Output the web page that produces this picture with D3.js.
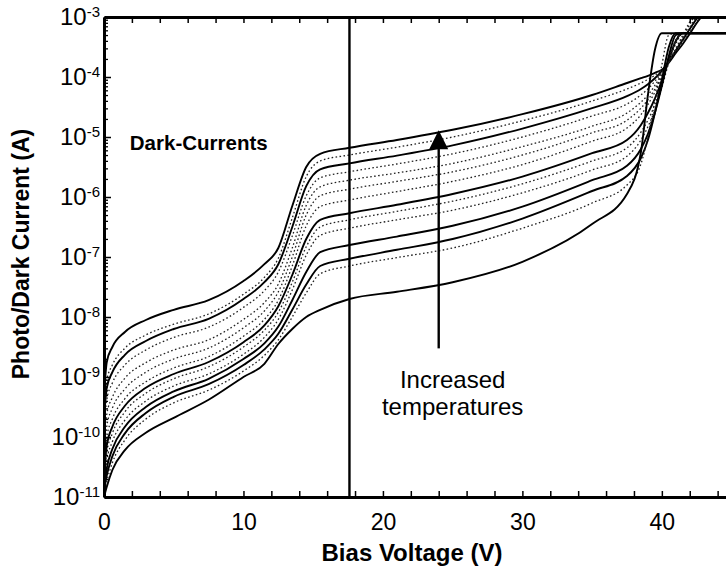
<!DOCTYPE html>
<html>
<head>
<meta charset="utf-8">
<script src="https://cdn.jsdelivr.net/npm/d3@7"></script>
<style>
  body { margin: 0; background: #fff; }
  svg { display: block; font-family: Arial, "Liberation Sans", Helvetica, sans-serif; }
</style>
</head>
<body>
<div id="chart"></div>
<script>
// bias voltage grid shared by every sweep (V)
const voltages = [0, 0.2, 0.6, 1.5, 3, 5, 7.5, 10, 11.5, 12.5, 13.5, 14.5, 15.5, 17.6, 21, 25, 30, 35, 37.5,
                  38.5, 39, 39.5, 40, 40.5, 41, 41.5, 42, 42.5, 43, 43.5, 44, 44.6];

// dark current sweeps, log10(I / A), hottest first
const curve01 = [-9.3, -8.75, -8.5, -8.25, -8.05, -7.88, -7.72, -7.4, -7.12, -6.85, -6.15, -5.5, -5.28, -5.18, -5.05, -4.88, -4.62, -4.3, -4.1, -4.02, -3.98, -3.93, -3.88, -3.76, -3.6, -3.45, -3.28, -3.1, -2.95, -2.8, -2.65, -2.45];
const curve02 = [-9.6, -9.05, -8.8, -8.52, -8.3, -8.12, -7.95, -7.62, -7.34, -7.02, -6.35, -5.66, -5.4, -5.3, -5.17, -5.0, -4.73, -4.4, -4.2, -4.1, -4.04, -3.97, -3.88, -3.74, -3.58, -3.42, -3.25, -3.08, -2.92, -2.77, -2.62, -2.42];
const curve03 = [-9.7, -9.18, -8.92, -8.63, -8.4, -8.2, -8.03, -7.7, -7.42, -7.12, -6.5, -5.82, -5.54, -5.44, -5.31, -5.14, -4.86, -4.52, -4.32, -4.2, -4.12, -4.02, -3.9, -3.74, -3.56, -3.38, -3.2, -3.03, -2.88, -2.73, -2.58, -2.4];
const curve04 = [-9.9, -9.38, -9.1, -8.8, -8.55, -8.34, -8.17, -7.84, -7.56, -7.25, -6.65, -5.98, -5.68, -5.58, -5.45, -5.28, -5.0, -4.65, -4.45, -4.3, -4.2, -4.07, -3.92, -3.74, -3.55, -3.36, -3.17, -2.98, -2.82, -2.67, -2.52, -2.35];
const curve05 = [-10.1, -9.62, -9.34, -9.02, -8.76, -8.55, -8.38, -8.04, -7.76, -7.45, -6.85, -6.14, -5.83, -5.72, -5.6, -5.44, -5.16, -4.82, -4.6, -4.42, -4.3, -4.14, -3.95, -3.75, -3.54, -3.33, -3.12, -2.93, -2.77, -2.62, -2.48, -2.3];
const curve06 = [-10.3, -9.82, -9.52, -9.2, -8.92, -8.7, -8.52, -8.18, -7.9, -7.58, -7.0, -6.3, -5.98, -5.87, -5.74, -5.58, -5.3, -4.93, -4.72, -4.52, -4.38, -4.2, -3.98, -3.76, -3.53, -3.3, -3.08, -2.88, -2.72, -2.58, -2.44, -2.28];
const curve07 = [-10.5, -10.0, -9.7, -9.36, -9.08, -8.85, -8.66, -8.32, -8.04, -7.72, -7.15, -6.48, -6.16, -6.05, -5.91, -5.74, -5.46, -5.07, -4.85, -4.63, -4.46, -4.25, -4.0, -3.72, -3.45, -3.27, -3.27, -3.27, -3.27, -3.27, -3.27, -3.27];
const curve08 = [-10.6, -10.14, -9.83, -9.48, -9.18, -8.95, -8.75, -8.42, -8.14, -7.82, -7.3, -6.7, -6.38, -6.27, -6.13, -5.95, -5.66, -5.27, -5.05, -4.8, -4.6, -4.36, -4.06, -3.72, -3.4, -3.27, -3.27, -3.27, -3.27, -3.27, -3.27, -3.27];
const curve09 = [-10.7, -10.26, -9.94, -9.58, -9.27, -9.03, -8.83, -8.5, -8.22, -7.92, -7.42, -6.83, -6.5, -6.38, -6.24, -6.07, -5.78, -5.4, -5.18, -4.92, -4.72, -4.46, -4.12, -3.75, -3.4, -3.27, -3.27, -3.27, -3.27, -3.27, -3.27, -3.27];
const curve10 = [-10.8, -10.4, -10.08, -9.72, -9.4, -9.15, -8.95, -8.62, -8.34, -8.04, -7.55, -6.97, -6.64, -6.52, -6.38, -6.22, -5.93, -5.55, -5.32, -5.05, -4.83, -4.55, -4.18, -3.75, -3.38, -3.27, -3.27, -3.27, -3.27, -3.27, -3.27, -3.27];
const curve11 = [-10.85, -10.52, -10.2, -9.83, -9.5, -9.24, -9.03, -8.7, -8.44, -8.16, -7.72, -7.25, -6.92, -6.8, -6.66, -6.48, -6.16, -5.72, -5.48, -5.2, -4.95, -4.6, -4.15, -3.65, -3.3, -3.27, -3.27, -3.27, -3.27, -3.27, -3.27, -3.27];
const curve12 = [-10.9, -10.64, -10.32, -9.94, -9.6, -9.33, -9.12, -8.8, -8.54, -8.28, -7.88, -7.46, -7.15, -7.03, -6.88, -6.7, -6.36, -5.9, -5.65, -5.35, -5.05, -4.6, -4.05, -3.5, -3.27, -3.27, -3.27, -3.27, -3.27, -3.27, -3.27, -3.27];
const curve13 = [-10.95, -10.74, -10.43, -10.05, -9.7, -9.43, -9.22, -8.9, -8.64, -8.38, -8.0, -7.6, -7.28, -7.15, -7.01, -6.85, -6.52, -6.1, -5.8, -5.45, -5.0, -4.4, -3.8, -3.3, -3.27, -3.27, -3.27, -3.27, -3.27, -3.27, -3.27, -3.27];
const curve14 = [-11.0, -10.83, -10.55, -10.22, -9.93, -9.68, -9.38, -9.0, -8.78, -8.45, -8.2, -8.0, -7.88, -7.7, -7.58, -7.42, -7.08, -6.45, -5.95, -5.25, -4.3, -3.55, -3.27, -3.27, -3.27, -3.27, -3.27, -3.27, -3.27, -3.27, -3.27, -3.27];

const xTickLabels = [0, 10, 20, 30, 40];
const yDecades = [-11, -10, -9, -8, -7, -6, -5, -4, -3];

// annotations (data units)
const markerVoltage = 17.6;
const arrowVoltage = 24.0;
const arrowFrom = 3e-9, arrowTo = 1.3e-5;

const curves = [curve01, curve02, curve03, curve04, curve05, curve06, curve07,
                curve08, curve09, curve10, curve11, curve12, curve13, curve14];
const dotted = new Set([1, 3, 4, 5, 6, 8, 9, 12]);   // indices drawn with fine dots

const W = 726, H = 573;
const margin = { top: 17, right: 0, bottom: 76, left: 104 };
const plotW = W - margin.left - margin.right;
const plotH = H - margin.top - margin.bottom;

const svg = d3.select("#chart").append("svg")
    .attr("width", W)
    .attr("height", H);

const x = d3.scaleLinear().domain([0, 44.6]).range([margin.left, margin.left + plotW]);
const y = d3.scaleLog().domain([1e-11, 1e-3]).range([margin.top + plotH, margin.top]);

svg.append("clipPath").attr("id", "plot")
  .append("rect")
    .attr("x", margin.left).attr("y", margin.top)
    .attr("width", plotW).attr("height", plotH);

const line = d3.line()
    .x((d, i) => x(voltages[i]))
    .y(d => y(Math.pow(10, d)))
    .curve(d3.curveMonotoneX);

const gCurves = svg.append("g").attr("clip-path", "url(#plot)");
gCurves.selectAll("path")
  .data(curves)
  .enter()
  .append("path")
    .attr("d", line)
    .attr("fill", "none")
    .attr("stroke", (d, i) => dotted.has(i) ? "#222" : "#000")
    .attr("stroke-width", (d, i) => dotted.has(i) ? 1.3 : 1.9)
    .attr("stroke-dasharray", (d, i) => dotted.has(i) ? "1.6 2.4" : null);

// vertical marker line
svg.append("line")
    .attr("x1", x(markerVoltage)).attr("x2", x(markerVoltage))
    .attr("y1", y(1e-3)).attr("y2", y(1e-11))
    .attr("stroke", "#000").attr("stroke-width", 2.4);

// arrow
svg.append("line")
    .attr("x1", x(arrowVoltage)).attr("x2", x(arrowVoltage))
    .attr("y1", y(arrowFrom)).attr("y2", y(arrowTo) + 17)
    .attr("stroke", "#000").attr("stroke-width", 2.4);
const ax = x(arrowVoltage), ay = y(arrowTo);
svg.append("path")
    .attr("d", `M${ax},${ay} L${ax - 9.5},${ay + 19} L${ax + 9.5},${ay + 19} Z`)
    .attr("fill", "#000");

// axes
const decadeVals = yDecades.map(e => Math.pow(10, e));
const minorVals = [];
yDecades.slice(0, -1).forEach(e => { for (let m = 2; m <= 9; m++) minorVals.push(m * Math.pow(10, e)); });

svg.append("g")
    .attr("transform", `translate(${margin.left},0)`)
    .call(d3.axisLeft(y).tickValues(minorVals).tickSizeInner(-4).tickSizeOuter(0).tickFormat(""))
    .call(g => g.select(".domain").remove())
    .call(g => g.selectAll(".tick line").attr("stroke-width", 1.3));

const gy = svg.append("g")
    .attr("transform", `translate(${margin.left},0)`)
    .call(d3.axisLeft(y).tickValues(decadeVals).tickSizeInner(-7).tickSizeOuter(0).tickPadding(4).tickFormat(""));
gy.select(".domain").attr("stroke-width", 3);
gy.selectAll(".tick line").attr("stroke-width", 1.5);
gy.selectAll(".tick text")
    .attr("font-size", 24).attr("fill", "#000")
    .each(function(d) {
      const t = d3.select(this);
      t.append("tspan").text("10");
      t.append("tspan").attr("font-size", 15).attr("dy", "-0.55em").text(Math.round(Math.log10(d)));
    });

const xTicks = d3.range(0, 45, 2);
const gx = svg.append("g")
    .attr("transform", `translate(0,${margin.top + plotH})`)
    .call(d3.axisBottom(x).tickValues(xTicks).tickSizeInner(-6).tickSizeOuter(0).tickPadding(17)
      .tickFormat(d => xTickLabels.includes(d) ? d : ""));
gx.select(".domain").attr("stroke-width", 3);
gx.selectAll(".tick line").attr("stroke-width", 1.5);
gx.selectAll(".tick text").attr("font-size", 23).attr("fill", "#000");

const gt = svg.append("g")
    .attr("transform", `translate(0,${margin.top})`)
    .call(d3.axisTop(x).tickValues(xTicks).tickSizeInner(-6).tickSizeOuter(0).tickFormat(""));
gt.select(".domain").attr("stroke-width", 3);
gt.selectAll(".tick line").attr("stroke-width", 1.5);

// titles
svg.append("text")
    .attr("x", (margin.left + W) / 2 - 3)
    .attr("y", 561)
    .attr("text-anchor", "middle")
    .style("font-size", "24px").style("font-weight", "bold")
    .text("Bias Voltage (V)");

svg.append("text")
    .attr("transform", `translate(29,254) rotate(-90)`)
    .attr("text-anchor", "middle")
    .style("font-size", "23px").style("font-weight", "bold")
    .text("Photo/Dark Current (A)");

svg.append("text")
    .attr("x", x(1.85)).attr("y", 150)
    .style("font-size", "20.5px").style("font-weight", "bold")
    .text("Dark-Currents");

const note = svg.append("text")
    .attr("x", x(25.0)).attr("y", 388)
    .attr("text-anchor", "middle")
    .style("font-size", "24px");
note.append("tspan").attr("x", x(25.0)).text("Increased");
note.append("tspan").attr("x", x(25.0)).attr("dy", 27).text("temperatures");
</script>
</body>
</html>
